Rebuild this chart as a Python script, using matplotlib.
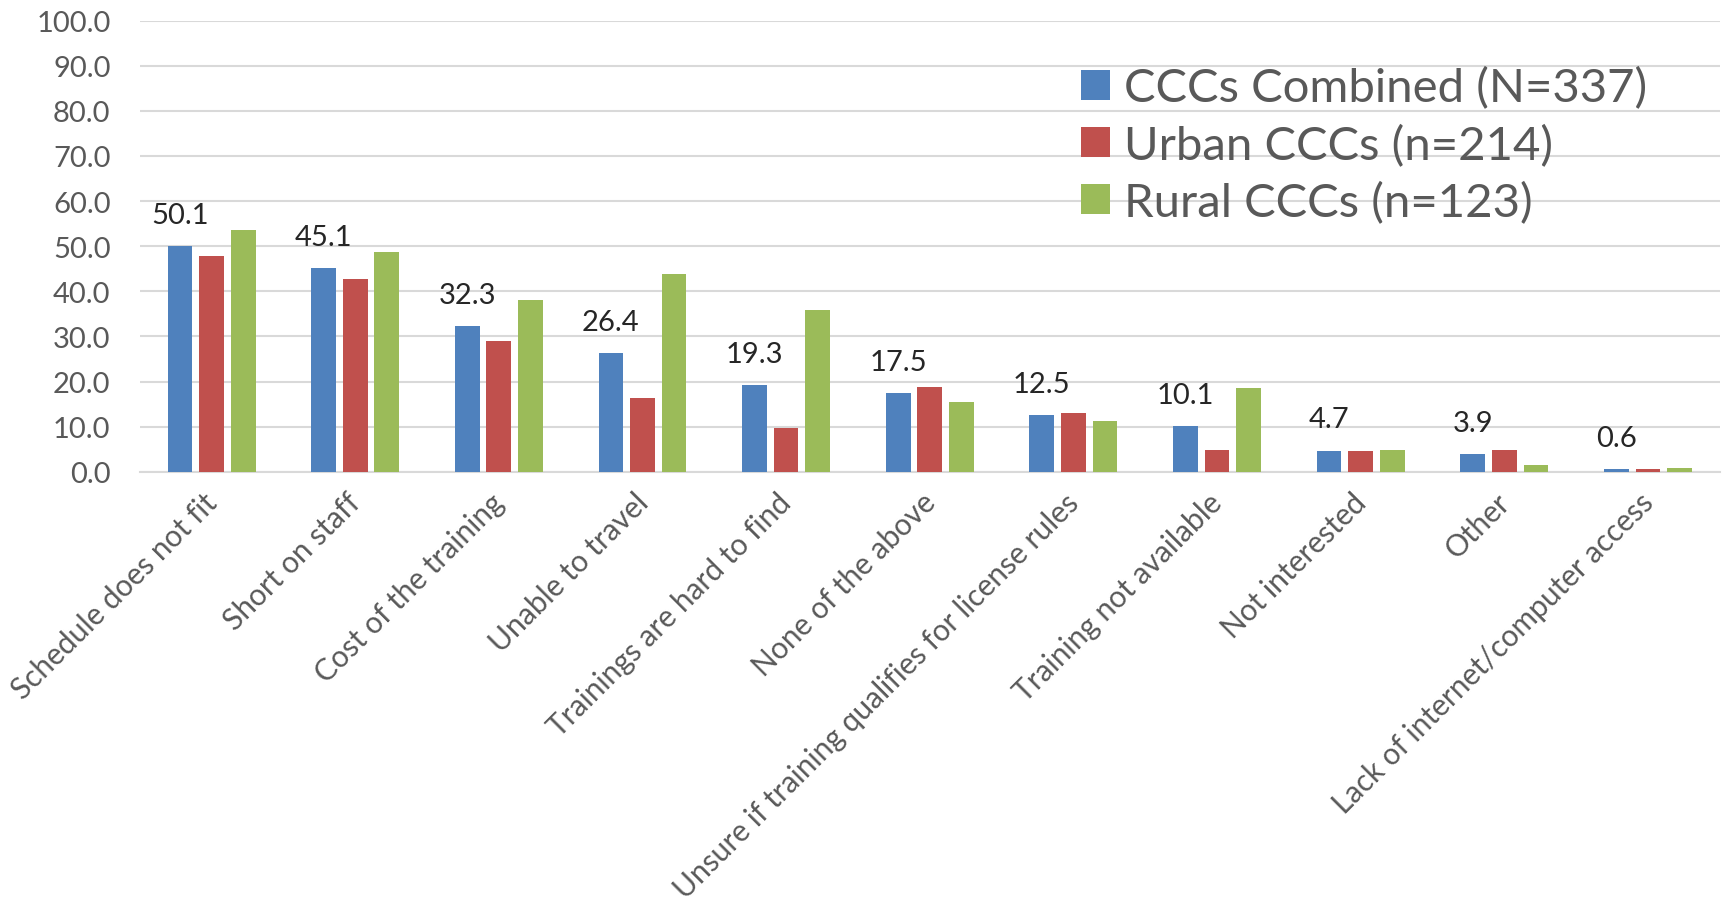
import matplotlib
matplotlib.use("Agg")
import matplotlib.pyplot as plt
import matplotlib.transforms as mtransforms
import numpy as np

plt.rcParams["font.family"] = ["Lato", "DejaVu Sans"]

CATEGORIAS = [
    "Schedule does not fit",
    "Short on staff",
    "Cost of the training",
    "Unable to travel",
    "Trainings are hard to find",
    "None of the above",
    "Unsure if training qualifies for license rules",
    "Training not available",
    "Not interested",
    "Other",
    "Lack of internet/computer access",
]
COMBINADO = [50.1, 45.1, 32.3, 26.4, 19.3, 17.5, 12.5, 10.1, 4.7, 3.9, 0.6]
URBANO = [47.9, 42.8, 28.9, 16.3, 9.7, 18.7, 13.0, 4.9, 4.5, 4.9, 0.5]
RURAL = [53.6, 48.7, 38.1, 43.8, 35.8, 15.4, 11.2, 18.6, 4.8, 1.5, 0.8]
SERIES = ["CCCs Combined (N=337)", "Urban CCCs (n=214)", "Rural CCCs (n=123)"]
COLORES = ["#4F81BD", "#C0504D", "#9BBB59"]
GRIS = "#595959"

fig = plt.figure(figsize=(17.25, 9.03), dpi=100)
ax = fig.add_axes([0.081, 0.4765, 0.916, 0.4995])

x = np.arange(len(CATEGORIAS))
ancho = 0.172
paso = 0.22
for i, (valores, nombre, color) in enumerate(zip([COMBINADO, URBANO, RURAL], SERIES, COLORES)):
    ax.bar(x + (i - 1) * paso, valores, width=ancho, color=color, label=nombre, zorder=3)

# etiquetas de valor solo sobre la serie combinada
for xi, v in zip(x, COMBINADO):
    ax.annotate(f"{v:.1f}", (xi - paso, v), xytext=(0, 13), textcoords="offset points",
                ha="center", va="bottom", fontsize=21, color="#262626")

ax.set_ylim(0, 100)
ax.set_xlim(-0.5, len(CATEGORIAS) - 0.5)
ax.set_yticks(np.arange(0, 101, 10))
ax.set_yticklabels([f"{t:.1f}" for t in np.arange(0, 101, 10)])
ax.grid(axis="y", color="#D9D9D9", linewidth=1.5, zorder=0)
for lado in ("top", "right", "left"):
    ax.spines[lado].set_visible(False)
ax.spines["bottom"].set_color("#D9D9D9")
ax.spines["bottom"].set_linewidth(1.5)
ax.tick_params(axis="both", length=0, labelsize=21, colors=GRIS)
ax.tick_params(axis="y", pad=21)

ax.set_xticks(x)
ax.set_xticklabels(CATEGORIAS, rotation=45, ha="right", rotation_mode="anchor", fontsize=21.5)
desplaza = mtransforms.ScaledTranslation(-0.09, -0.11, fig.dpi_scale_trans)
for etiqueta in ax.get_xticklabels():
    etiqueta.set_transform(etiqueta.get_transform() + desplaza)

ax.legend(loc="upper left", bbox_to_anchor=(0.584, 0.94), frameon=False, fontsize=34,
          handlelength=0.6, handleheight=0.6, handletextpad=0.3, labelspacing=0.3,
          labelcolor=GRIS, borderaxespad=0)

fig.savefig("out.png", dpi=100)
